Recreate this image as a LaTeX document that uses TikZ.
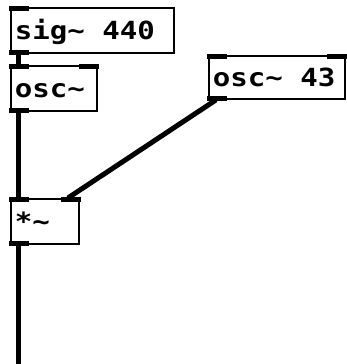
\documentclass[tikz,border=0pt]{standalone}
\usepackage{fontspec}
\usepackage{tikz}
\usetikzlibrary{calc}
\newfontfamily\pdfont[FakeStretch=1.163]{DejaVu Sans Mono}
\newcommand\pdsp{\hspace*{17.5pt}}

\begin{document}
\begin{tikzpicture}[x=1pt,y=-1pt,
    pdbox/.style={draw,line width=1.9pt,anchor=north west,inner xsep=4pt,inner ysep=0pt,
      align=left,minimum height=45pt,text height=17.5pt,text depth=0pt,
      font=\pdfont\bfseries\fontsize{25}{25}\selectfont},
    sigwire/.style={line width=5pt}]
  \useasboundingbox (0,0) rectangle (347,364);
  % objects
  \node[pdbox,text width=155pt] (sig) at (10,7) {sig\textasciitilde\pdsp 440};
  \node[pdbox,text width=78pt] (osc) at (10,65) {osc\textasciitilde};
  \node[pdbox,text width=128pt,minimum height=43pt] (osc43) at (208,55) {osc\textasciitilde\pdsp 43};
  \node[pdbox,text width=60pt] (mul) at (10,198) {*\textasciitilde};
  \coordinate (dacin) at (18,370);
  % inlets
  \foreach \b in {sig,osc,osc43,mul}
    \fill ([shift={(-1,-1)}]\b.north west) rectangle ++(20,5);
  \foreach \b in {osc,osc43,mul}
    \fill ([shift={(-19,-1)}]\b.north east) rectangle ++(20,5);
  % outlets
  \foreach \b in {sig,osc,osc43,mul}
    \fill ([shift={(-1,1)}]\b.south west) rectangle ++(20,-5);
  % signal connections
  \draw[sigwire] ([xshift=8pt]sig.south west) -- ([xshift=8pt]osc.north west);
  \draw[sigwire] ([xshift=8pt]osc.south west) -- ([xshift=8pt]mul.north west);
  \draw[sigwire] ([xshift=8pt]osc43.south west) -- ([xshift=-12pt]mul.north east);
  \draw[sigwire] ([xshift=8pt]mul.south west) -- (dacin);
\end{tikzpicture}
\end{document}
